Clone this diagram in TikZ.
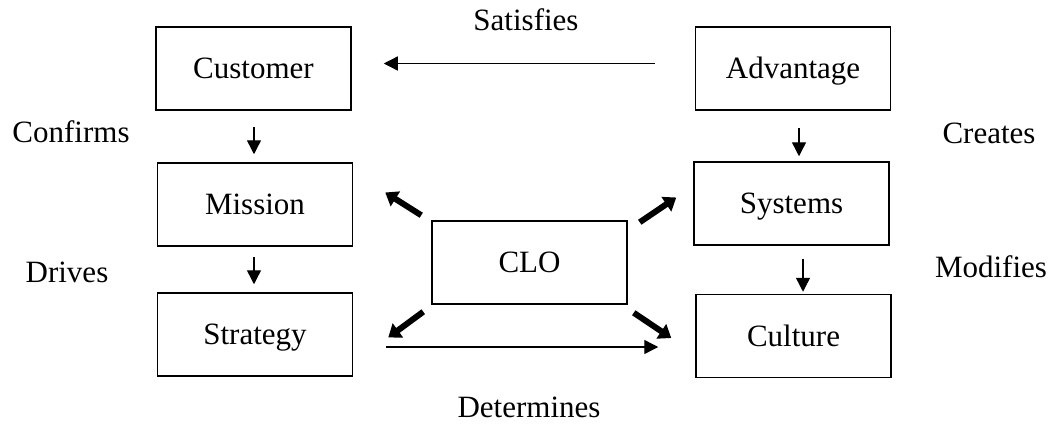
\documentclass[tikz,border=0pt]{standalone}
\usepackage{fontspec}
\setmainfont{Liberation Serif}
\usetikzlibrary{arrows.meta}
\tikzset{
  blok/.style={draw, line width=1.5pt, minimum width=195pt, minimum height=83pt,
    inner sep=0pt, text height=20pt, text depth=0pt},
  lbl/.style={anchor=base, inner sep=0pt},
  thinarrow/.style={line width=1.4pt, -{Triangle[length=14pt,width=14pt]}},
  thickarrow/.style={line width=6pt, -{Triangle[length=12pt,width=17pt]}}
}
\begin{document}
\begin{tikzpicture}[x=1pt,y=-1pt,font=\fontsize{31pt}{36pt}\selectfont]
      \useasboundingbox (0,0) rectangle (1055,429);
      \draw
        (253.5,68.5) node[blok] (cust){Customer}
        (255,204.5) node[blok] (mis){Mission}
        (255,334.5) node[blok] (strat){Strategy}
        (793,68.5) node[blok] (adv){Advantage}
        (791.5,203.5) node[blok] (sys){Systems}
        (793.5,336) node[blok] (cult){Culture}
        (529.5,262.5) node[blok] (clo){CLO};
      \draw
        (526,30) node[lbl] (satisfies){Satisfies}
        (71,142) node[lbl] (confirms){Confirms}
        (989,143) node[lbl] (creates){Creates}
        (67,282) node[lbl] (drives){Drives}
        (991,277) node[lbl] (modifies){Modifies}
        (529,417) node[lbl] (determines){Determines};
      \begin{scope}[thinarrow]
        \draw ([shift={(-40,-5)}]adv.west) to ([shift={(32,-5)}]cust.east);
        \draw ([xshift=0.5pt,yshift=-16pt]cust.south) to ([xshift=-1pt,yshift=8pt]mis.north);
        \draw ([xshift=-1pt,yshift=-10pt]mis.south) to ([xshift=-1pt,yshift=8pt]strat.north);
        \draw ([xshift=6pt,yshift=-17pt]adv.south) to ([xshift=7.5pt,yshift=5pt]sys.north);
        \draw ([xshift=11.5pt,yshift=-13pt]sys.south) to ([xshift=9.5pt,yshift=2pt]cult.north);
        \draw ([shift={(33,12.5)}]strat.east) to ([shift={(-37,11)}]cult.west);
      \end{scope}
      \begin{scope}[thickarrow]
        \draw ([shift={(-10,-5)}]clo.north west) to ([shift={(32,-12)}]mis.east);
        \draw ([shift={(12,2)}]clo.north east) to ([shift={(-17,-6)}]sys.west);
        \draw ([shift={(-8,7)}]clo.south west) to ([shift={(35,3)}]strat.east);
        \draw ([shift={(6,8)}]clo.south east) to ([shift={(-24,2)}]cult.west);
      \end{scope}
    \end{tikzpicture}
\end{document}
